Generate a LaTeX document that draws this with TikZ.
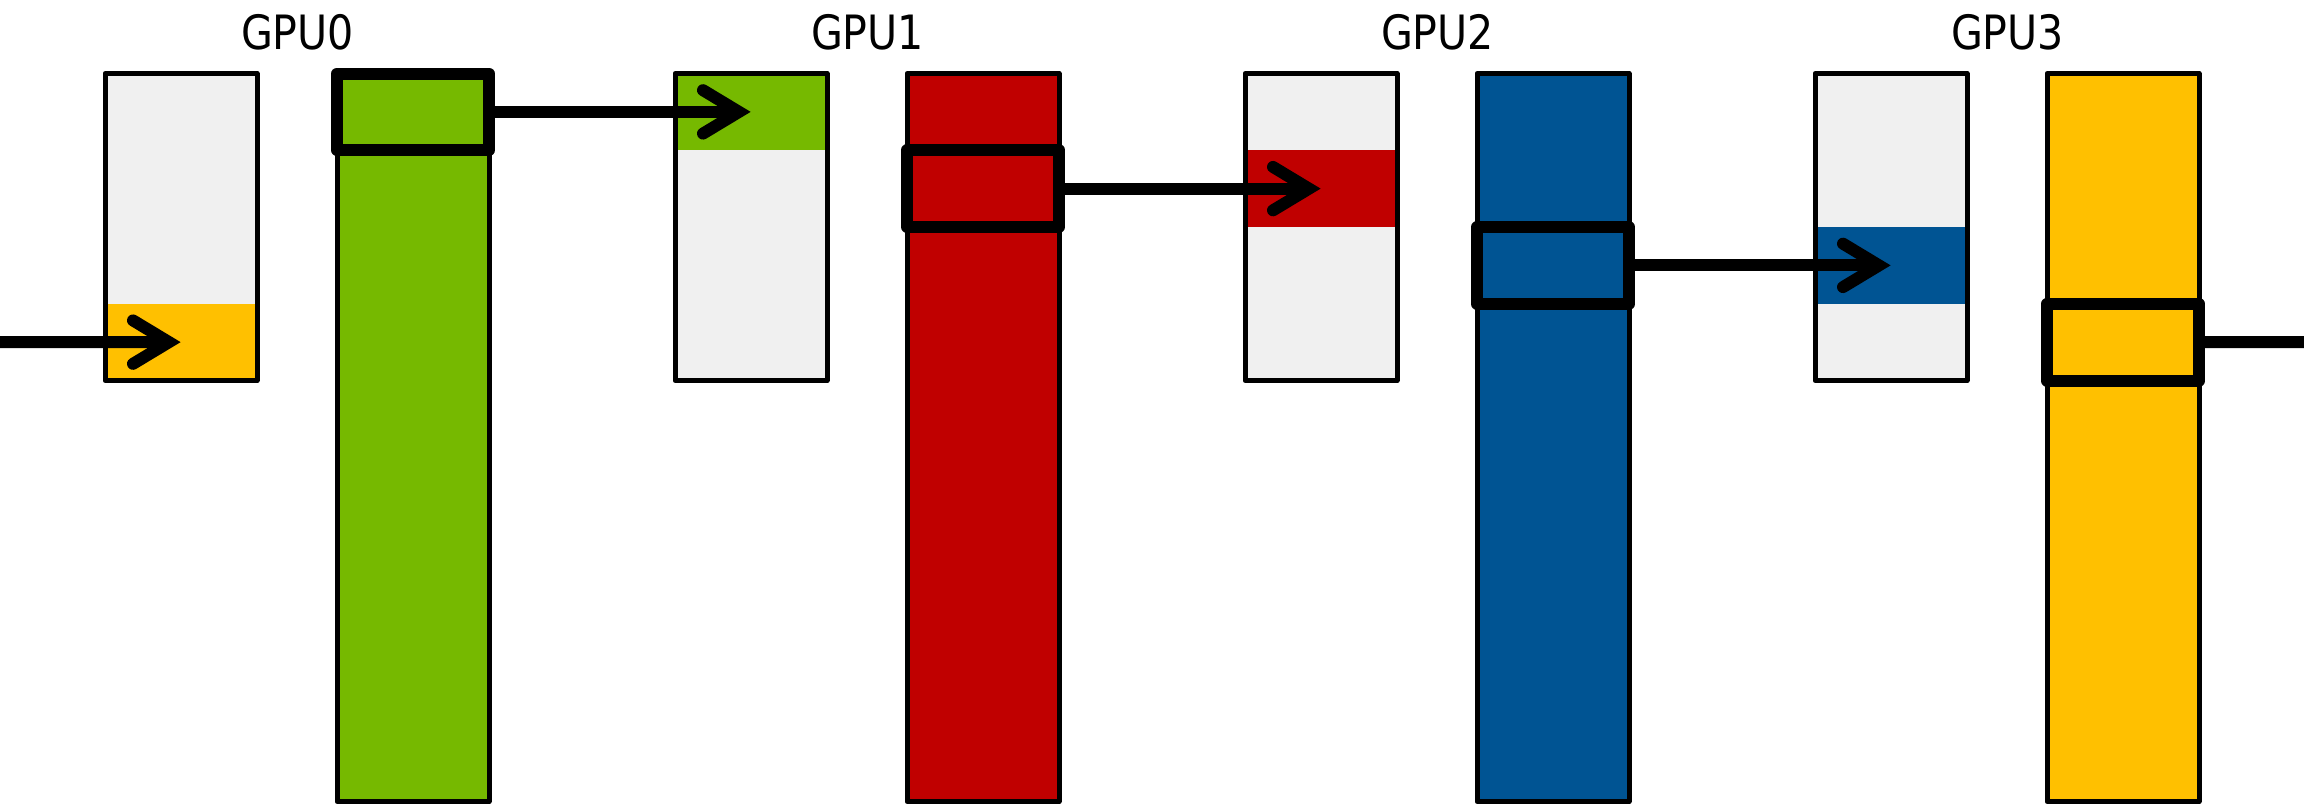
\documentclass[tikz,border=0pt]{standalone}
\usepackage{fontspec}
\newfontfamily\lblfont[FakeStretch=0.87]{DejaVu Sans}
\usetikzlibrary{calc}

\definecolor{bufgray}{HTML}{F0F0F0}
\definecolor{gpugreen}{HTML}{76B900}
\definecolor{gpured}{HTML}{C00000}
\definecolor{gpublue}{HTML}{005493}
\definecolor{gpuyellow}{HTML}{FFC000}

% chevron arrow head drawn at a named point
\newcommand\chevronat[1]{%
  \draw[tipline] ($(#1)+(-36,-21.7)$) -- (#1) -- ($(#1)+(-36,21.7)$);}

\begin{document}
\begin{tikzpicture}[x=1pt,y=-1pt,
  bufbox/.style={fill=bufgray, minimum width=152pt, minimum height=307pt,
    inner sep=0pt, outer sep=0pt, anchor=north west},
  segfill/.style={fill=#1, minimum width=152pt, minimum height=76.75pt,
    inner sep=0pt, outer sep=0pt, anchor=north west},
  thinline/.style={draw=black, line width=5pt, line join=round},
  tallbar/.style={fill=#1, draw=black, line width=5pt, line join=round,
    minimum width=152pt, minimum height=728pt,
    inner sep=0pt, outer sep=0pt, anchor=north west},
  hilite/.style={draw=black, line width=12pt, line join=round,
    minimum width=152pt, minimum height=76.75pt,
    inner sep=0pt, outer sep=0pt, anchor=north west},
  link/.style={draw=black, line width=12pt},
  tipline/.style={draw=black, line width=12pt, line cap=round, line join=miter},
  lbl/.style={anchor=base, inner sep=0pt,
    font=\lblfont\fontsize{47.3pt}{56pt}\selectfont},
]
\useasboundingbox (0,0) rectangle (2304,804);

% labels
\node[lbl] (g0) at (297.5,49.3) {GPU0};
\node[lbl] (g1) at (867.5,49.3) {GPU1};
\node[lbl] (g2) at (1437.5,49.3) {GPU2};
\node[lbl] (g3) at (2007.5,49.3) {GPU3};

% receive buffers
\node[bufbox] (s0) at (105,73.5) {};
\node[segfill=gpuyellow] (s0c) at (105,303.75) {};
\draw[thinline] (s0.north west) rectangle (s0.south east);

\node[bufbox] (s1) at (675,73.5) {};
\node[segfill=gpugreen] (s1c) at (675,73.5) {};
\draw[thinline] (s1.north west) rectangle (s1.south east);

\node[bufbox] (s2) at (1245,73.5) {};
\node[segfill=gpured] (s2c) at (1245,150.25) {};
\draw[thinline] (s2.north west) rectangle (s2.south east);

\node[bufbox] (s3) at (1815,73.5) {};
\node[segfill=gpublue] (s3c) at (1815,227) {};
\draw[thinline] (s3.north west) rectangle (s3.south east);

% full data bars
\node[tallbar=gpugreen] (b0) at (337,73.5) {};
\node[tallbar=gpured] (b1) at (907,73.5) {};
\node[tallbar=gpublue] (b2) at (1477,73.5) {};
\node[tallbar=gpuyellow] (b3) at (2047,73.5) {};

% chunks being sent
\node[hilite] (h0) at (337,73.5) {};
\node[hilite] (h1) at (907,150.25) {};
\node[hilite] (h2) at (1477,227) {};
\node[hilite] (h3) at (2047,303.75) {};

% arrow tips and free ends
\coordinate (t0) at ($(s0c.center)+(-12,0)$);
\coordinate (t1) at ($(s1c.center)+(-12,0)$);
\coordinate (t2) at ($(s2c.center)+(-12,0)$);
\coordinate (t3) at ($(s3c.center)+(-12,0)$);
\coordinate (inL) at (0,342.1);
\coordinate (outR) at (2304,342.1);

% ring transfers
\draw[link] (inL) -- (t0);
\chevronat{t0}
\draw[link] (h0.east) -- (t1);
\chevronat{t1}
\draw[link] (h1.east) -- (t2);
\chevronat{t2}
\draw[link] (h2.east) -- (t3);
\chevronat{t3}
\draw[link] (h3.east) -- (outR);
\end{tikzpicture}
\end{document}
